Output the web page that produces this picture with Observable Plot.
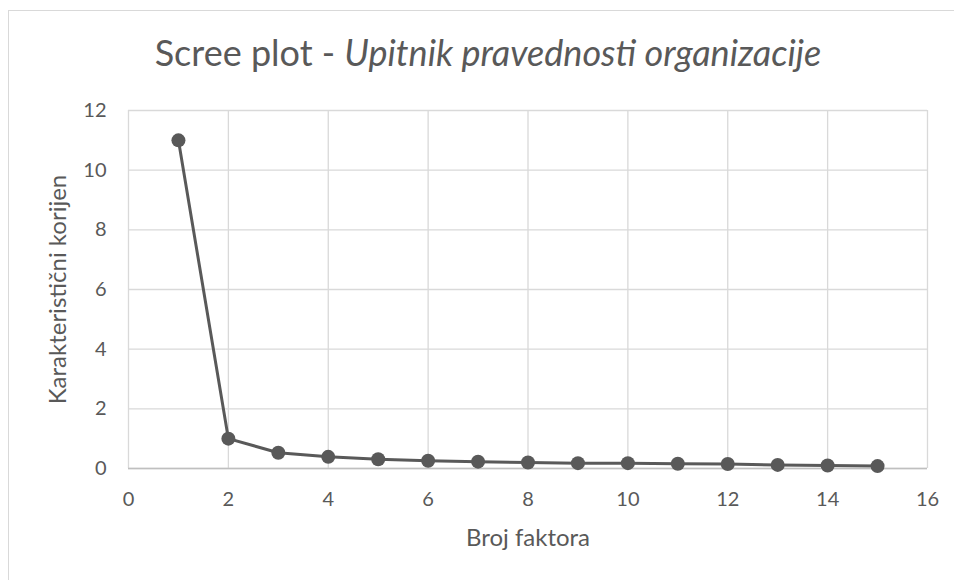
<!DOCTYPE html>
<html>
<head>
<meta charset="utf-8">
<script src="https://cdn.jsdelivr.net/npm/d3@7"></script>
<script src="https://cdn.jsdelivr.net/npm/@observablehq/plot@0.6"></script>
<style>
  html, body { margin: 0; padding: 0; background: #fff; }
  #wrap { position: relative; width: 954px; height: 580px; overflow: hidden; font-family: Lato, sans-serif; }
  #border { position: absolute; left: 8px; top: 10px; width: 1000px; height: 700px; border: 1px solid #d9d9d9; box-sizing: border-box; }
  #title { position: absolute; left: 0; width: 976px; top: 30px; line-height: 44px; text-align: center; font-size: 36px; color: #595959; white-space: nowrap; }
  #chart { position: absolute; left: 0; top: 0; }
</style>
</head>
<body>
<div id="wrap">
  <div id="border"></div>
  <div id="chart"></div>
  <div id="title">Scree plot - <i>Upitnik pravednosti organizacije</i></div>
</div>
<script>
const factors = [1, 2, 3, 4, 5, 6, 7, 8, 9, 10, 11, 12, 13, 14, 15];
const eigenvalues = [11.0, 1.0, 0.53, 0.39, 0.31, 0.26, 0.23, 0.2, 0.18, 0.18, 0.16, 0.15, 0.12, 0.1, 0.08];
const xTicks = [0, 2, 4, 6, 8, 10, 12, 14, 16];
const yTicks = [0, 2, 4, 6, 8, 10, 12];
const xLabel = "Broj faktora";
const yLabel = "Karakteristični korijen";

const data = factors.map((f, i) => ({f, v: eigenvalues[i]}));
const ink = "#595959";

const plot = Plot.plot({
  width: 954,
  height: 580,
  marginLeft: 128,
  marginRight: 27,
  marginTop: 110,
  marginBottom: 112,
  style: {fontFamily: "Lato, sans-serif", fontSize: "20px", color: ink, background: "transparent", overflow: "visible"},
  x: {domain: [0, 16], ticks: xTicks, label: null},
  y: {domain: [0, 12], ticks: yTicks, label: null},
  marks: [
    Plot.gridX(xTicks, {stroke: "#d9d9d9", strokeOpacity: 1, strokeWidth: 1.3}),
    Plot.gridY(yTicks, {stroke: "#d9d9d9", strokeOpacity: 1, strokeWidth: 1.3}),
    Plot.ruleY([0], {stroke: "#bfbfbf", strokeWidth: 1.5}),
    Plot.axisX(xTicks, {tickSize: 0, tickPadding: 23, fill: ink, fontSize: 20}),
    Plot.axisY(yTicks, {tickSize: 0, tickPadding: 22, fill: ink, fontSize: 20}),
    Plot.line(data, {x: "f", y: "v", stroke: ink, strokeWidth: 3}),
    Plot.dot(data, {x: "f", y: "v", r: 7, fill: ink, stroke: "none"}),
    Plot.text([yLabel], {frameAnchor: "left", dx: -70, rotate: -90, textAnchor: "middle", lineAnchor: "middle", text: d => d, fill: ink, fontSize: 24}),
    Plot.text([xLabel], {frameAnchor: "bottom", dy: 70, textAnchor: "middle", lineAnchor: "middle", text: d => d, fill: ink, fontSize: 24})
  ]
});
document.getElementById("chart").appendChild(plot);
</script>
</body>
</html>
